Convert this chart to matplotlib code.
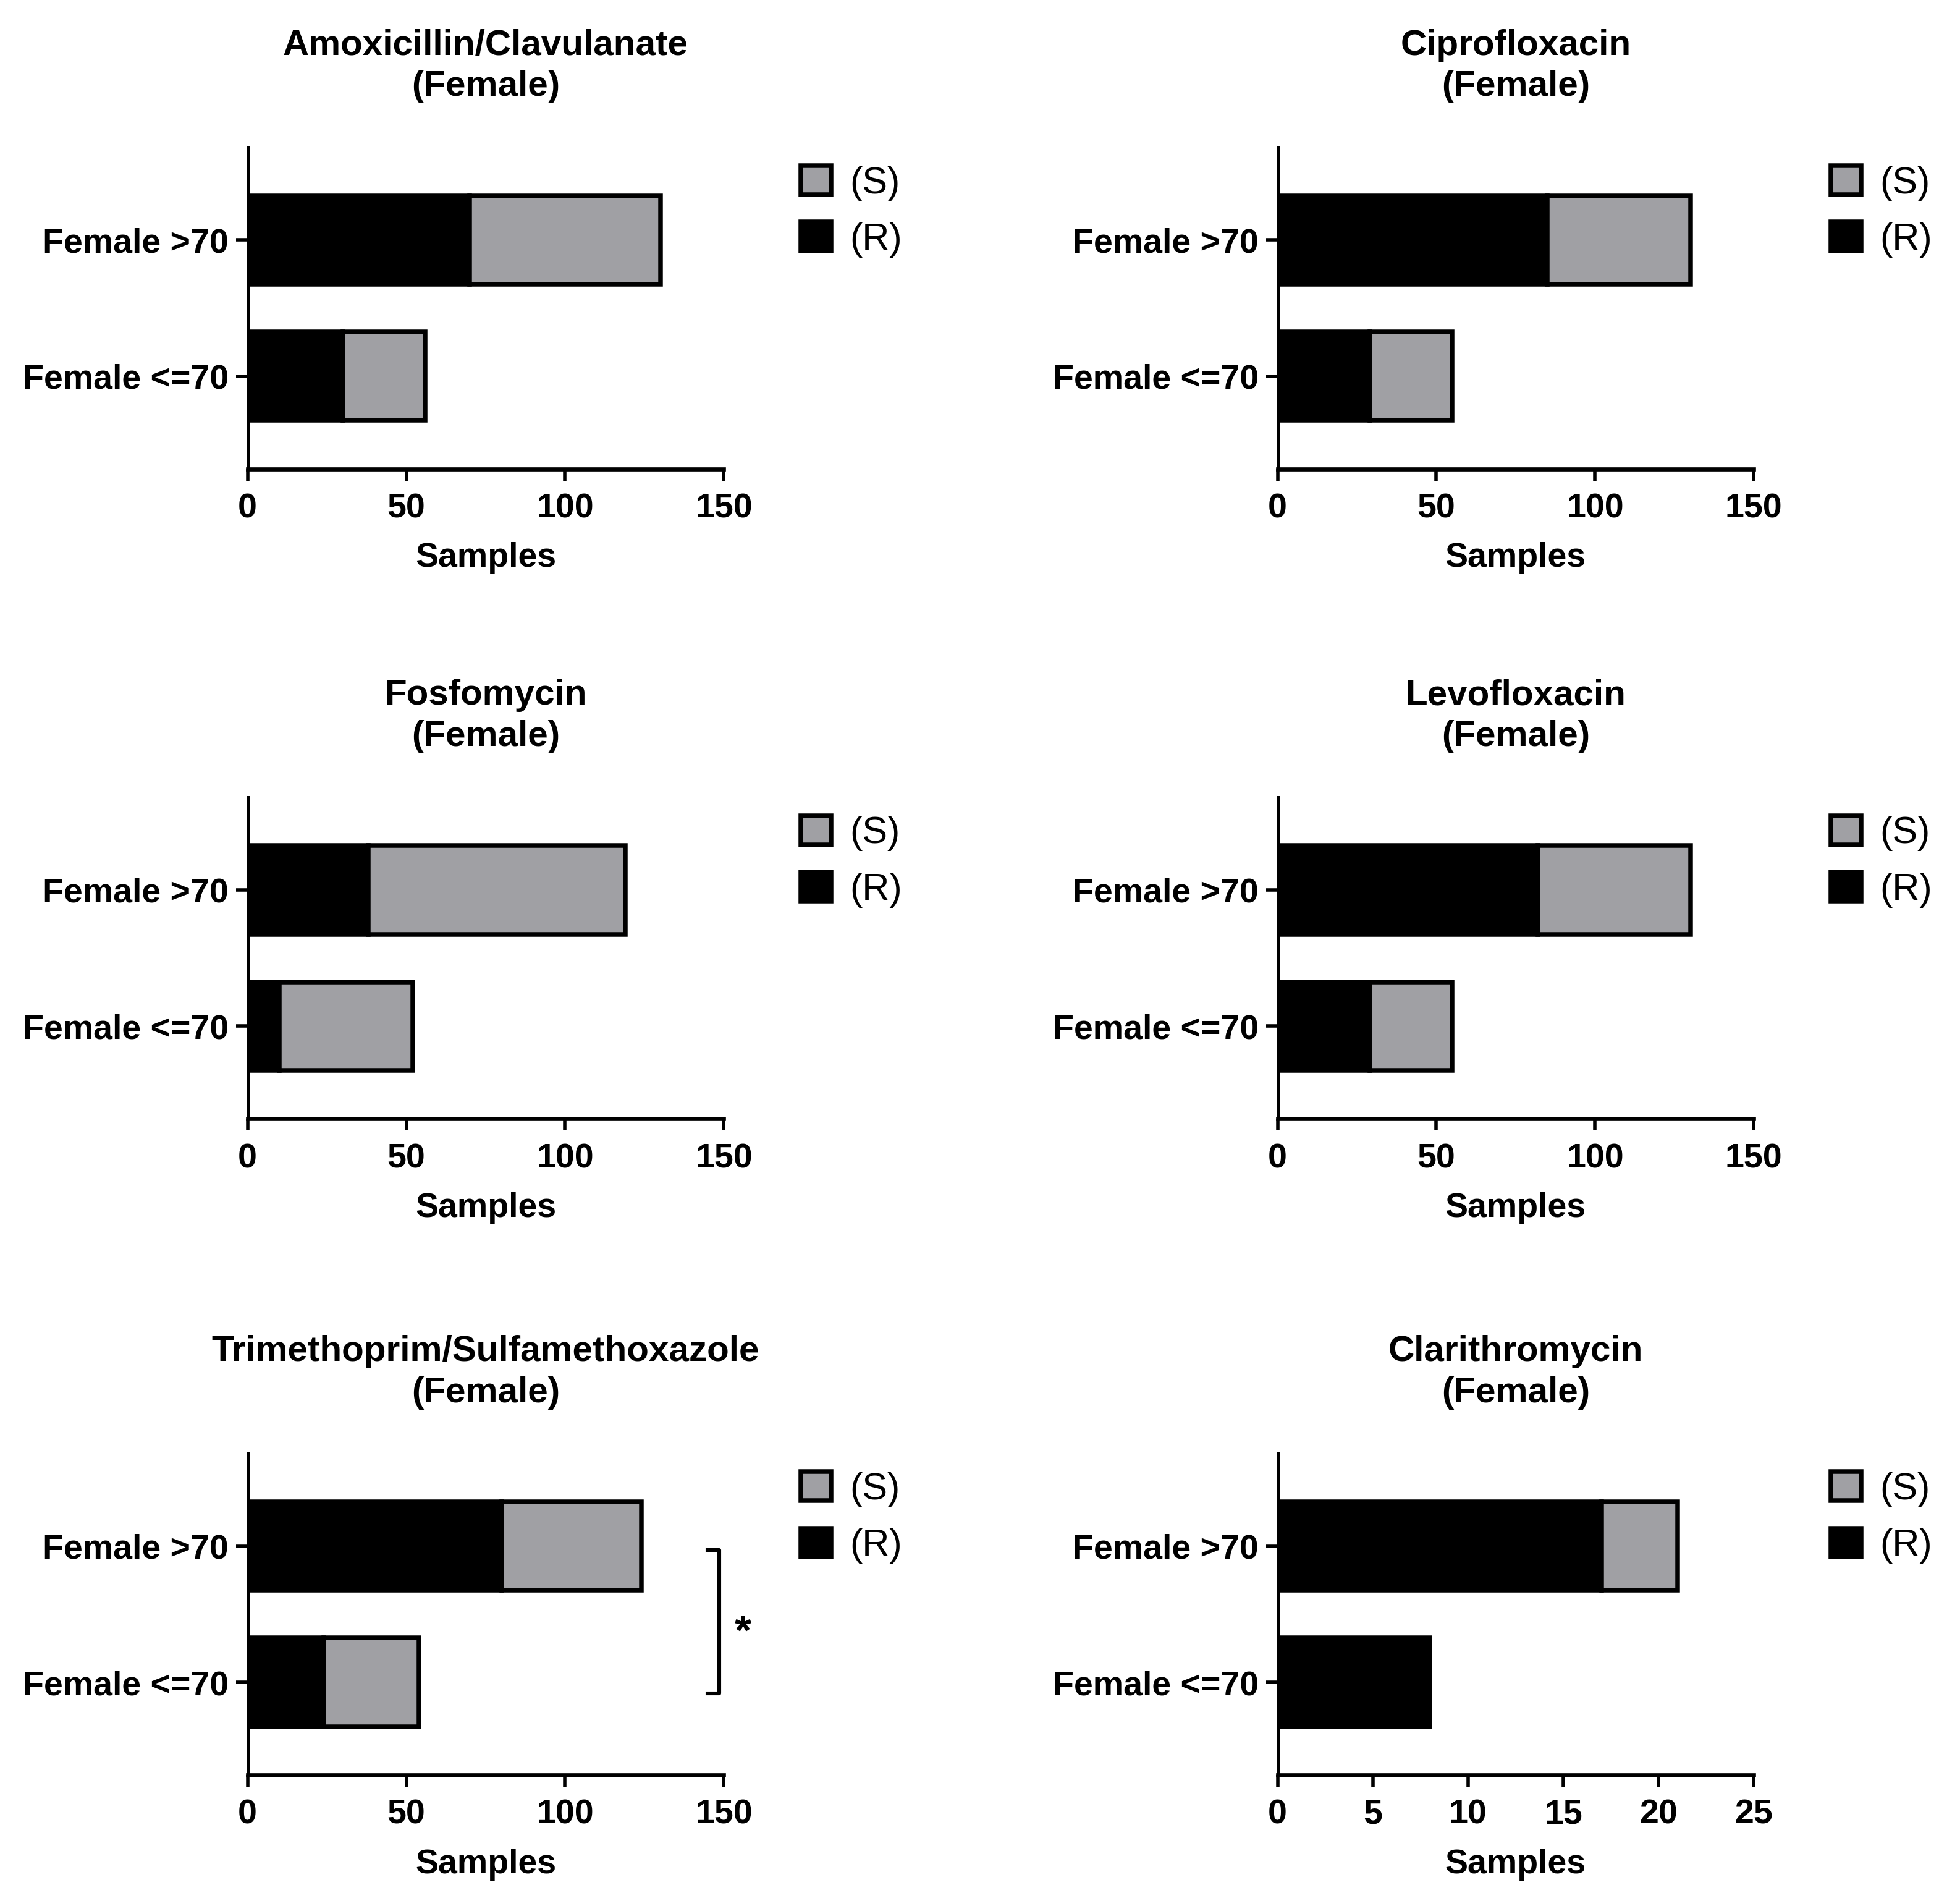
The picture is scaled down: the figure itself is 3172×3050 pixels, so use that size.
import numpy as np
import matplotlib
matplotlib.use("Agg")
import matplotlib.pyplot as plt

plt.rcParams['font.family'] = ['Liberation Sans', 'DejaVu Sans']

# antibiotics, one panel each
drugs = ["Amoxicillin/Clavulanate", "Ciprofloxacin", "Fosfomycin",
         "Levofloxacin", "Trimethoprim/Sulfamethoxazole", "Clarithromycin"]
groups = ["Female <=70", "Female >70"]

# resistant (R) and susceptible (S) counts per age group
r_le70 = [30, 29, 10, 29, 24, 8]
s_le70 = [26, 26, 42, 26, 30, 0]
r_gt70 = [70, 85, 38, 82, 80, 17]
s_gt70 = [60, 45, 81, 48, 44, 4]

x_max = [150, 150, 150, 150, 150, 25]
x_step = [50, 50, 50, 50, 50, 5]

grey = "#a0a0a4"
fs = 20

fig = plt.figure(figsize=(15.86, 15.25), dpi=200)

lefts = [0.1263, 0.6518]
bottoms = [0.7513, 0.4065, 0.0584]
w, h = 0.243, 0.1705

for i, drug in enumerate(drugs):
    row, col = divmod(i, 2)
    ax = fig.add_axes([lefts[col], bottoms[row], w, h])
    y = np.arange(len(groups))
    r = [r_le70[i], r_gt70[i]]
    s = [s_le70[i], s_gt70[i]]
    br = ax.barh(y, r, height=0.65, color="black", edgecolor="black", linewidth=2.7)
    bs = ax.barh(y, s, left=r, height=0.65, color=grey, edgecolor="black", linewidth=2.7)

    ax.set_xlim(0, x_max[i])
    ax.set_ylim(-0.68, 1.68)
    ax.set_xticks(np.arange(0, x_max[i] + 1, x_step[i]))
    ax.set_yticks(y)
    ax.set_yticklabels(groups)
    for lab in ax.get_xticklabels() + ax.get_yticklabels():
        lab.set_fontweight("bold")
    ax.tick_params(axis="both", labelsize=fs, length=7, width=2, pad=4)
    ax.tick_params(axis="x", pad=7)
    ax.spines["top"].set_visible(False)
    ax.spines["right"].set_visible(False)
    ax.spines["left"].set_linewidth(1.8)
    ax.spines["bottom"].set_linewidth(2.4)
    ax.set_xlabel("Samples", fontsize=fs, fontweight="bold", labelpad=10)
    ax.set_title(drug + "\n(Female)", fontsize=21, fontweight="bold", pad=30,
                 linespacing=1.3)

    ax.legend(handles=[bs, br], labels=["(S)", "(R)"], loc="upper left",
              bbox_to_anchor=(1.13, 0.99), frameon=False, fontsize=22,
              handlelength=0.8, handleheight=0.8, handletextpad=0.5,
              labelspacing=0.55, borderaxespad=0)

    if drug == "Trimethoprim/Sulfamethoxazole":
        # significance bracket
        ax.plot([144.8, 148.5, 148.5, 144.8], [0.97, 0.97, -0.08, -0.08],
                color="black", lw=2.2, clip_on=False)
        ax.text(156, 0.36, "*", fontsize=25, fontweight="bold",
                ha="center", va="center")

fig.savefig("out.png", dpi=200)
